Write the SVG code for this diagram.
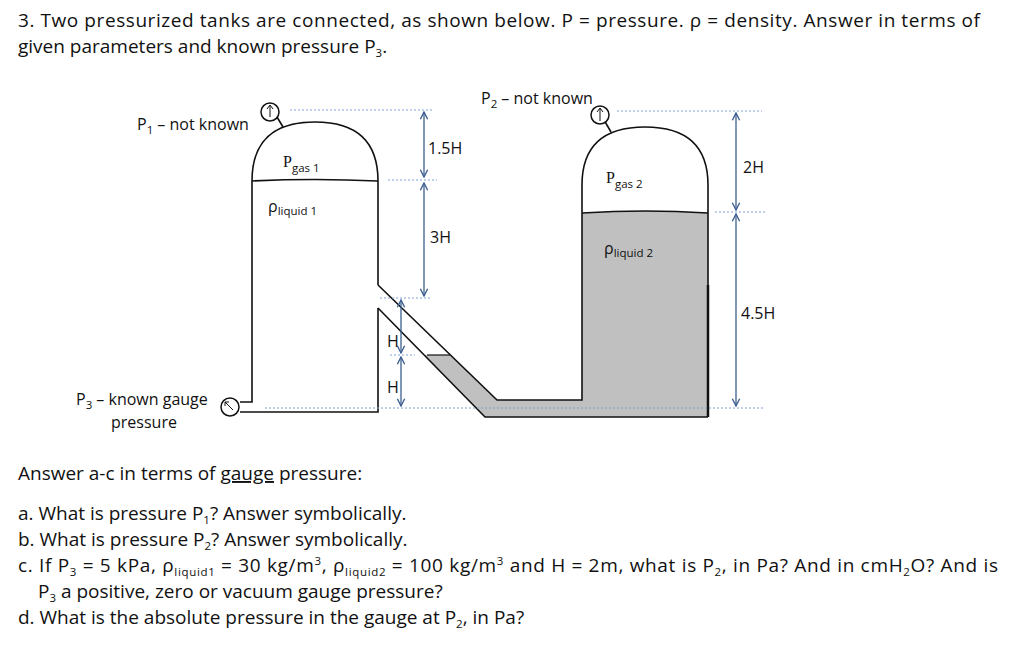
<svg xmlns="http://www.w3.org/2000/svg" width="1024" height="652" viewBox="0 0 1024 652">
<style>
.t{font-family:"Open Sans","Liberation Sans",sans-serif;font-size:19px;fill:#111}
.l{font-family:"Open Sans","Liberation Sans",sans-serif;font-size:16px;fill:#111}
.s{font-size:11.5px}
.w{fill:none;stroke:#111;stroke-width:1.6}
.d{stroke:#7fa3d8;stroke-width:1;stroke-dasharray:2 2;fill:none}
.a{stroke:#3d5f91;stroke-width:1.3;fill:none;marker-start:url(#m);marker-end:url(#m)}
.serif{font-family:"Liberation Serif",serif}
</style>
<defs><marker id="m" viewBox="0 0 10 10" refX="9" refY="5" markerWidth="7" markerHeight="7" orient="auto-start-reverse"><path d="M1,1 L9,5 L1,9" fill="none" stroke="#3d5f91" stroke-width="1.5"/></marker></defs>
<rect width="1024" height="652" fill="#fff"/>
<text class="t" x="18" y="27" textLength="962" lengthAdjust="spacing">3. Two  pressurized tanks are connected, as shown below.  P = pressure.  ρ = density.  Answer in terms of</text>
<text class="t" x="18" y="53">given parameters and known pressure P<tspan class="s" dy="4">3</tspan><tspan dy="-4">.</tspan></text>
<g id="liquid">
<path d="M427,355 L450,355 L497,400 L582,400 L582,213 Q645,209 708,213 L708,417 L485,417 L424,355 Z" fill="#c0c0c0"/>
</g>
<g id="tank1">
<path class="w" d="M378,285 L378,181 Q378,122 315,122 Q252,122 252,181 L252,402 L240,402"/>
<path class="w" d="M240,412 L378,412 L378,308"/>
<path class="w" d="M252,181 Q315,178 378,181"/>
<path class="w" d="M277,117 L283,127"/>
<circle cx="270" cy="112" r="9" fill="#fff" stroke="#111" stroke-width="1.5"/>
<path d="M270,117 L270,106 M267,109 L270,105 L273,109" stroke="#111" fill="none" stroke-width="1"/>
<circle cx="230" cy="407" r="9" fill="#fff" stroke="#111" stroke-width="1.5"/>
<path d="M233,410 L225,402 M225,406 L225,402 L229,402" stroke="#111" fill="none" stroke-width="1"/>
</g>
<g id="pipe">
<path class="w" d="M378,285 L497,400 L582,400 L582,213"/>
<path class="w" d="M378,308 L485,417 L708,417"/>
<path d="M427,355 L450,355" stroke="#111" stroke-width="1.2"/>
</g>
<g id="tank2">
<path class="w" d="M582,213 L582,185 Q582,127 645,127 Q708,127 708,185 L708,417"/>
<path d="M708,285 L708,417" stroke="#111" stroke-width="2.5"/>
<path class="w" d="M582,213 Q645,209 708,213"/>
<path class="w" d="M604,120 L611,132"/>
<circle cx="600" cy="115" r="9" fill="#fff" stroke="#111" stroke-width="1.5"/>
<path d="M600,121 L600,109 M597,112 L600,108 L603,112" stroke="#111" fill="none" stroke-width="1"/>
</g>
<g id="connectors">
<path class="d" d="M290,110 L433,110 M388,180 L437,180 M380,298 L430,298 M390,355 L415,355 M265,408 L765,408 M617,111 L762,111 M715,212 L765,212"/>
<path class="a" d="M424,112 L424,177"/>
<path class="a" d="M424,183 L424,296"/>
<path class="a" d="M401,300 L401,353"/>
<path class="a" d="M401,357 L401,406"/>
<path class="a" d="M736,113 L736,210"/>
<path class="a" d="M736,214 L736,406"/>
</g>
<g id="labels">
<text class="l" x="137" y="130">P<tspan class="s" dy="4">1</tspan><tspan dy="-4"> – not known</tspan></text>
<text class="l serif" x="283" y="167" font-size="17">P<tspan class="s" font-family="Open Sans" dy="5">gas 1</tspan></text>
<text class="l" x="268" y="212">ρ<tspan class="s" dy="3">liquid 1</tspan></text>
<text class="l" x="428" y="154">1.5H</text>
<text class="l" x="430" y="243">3H</text>
<text class="l" x="387" y="347">H</text>
<text class="l" x="387" y="393">H</text>
<text class="l" x="481" y="104">P<tspan class="s" dy="4">2</tspan><tspan dy="-4"> – not known</tspan></text>
<text class="l serif" x="606" y="183" font-size="17">P<tspan class="s" font-family="Open Sans" dy="5">gas 2</tspan></text>
<text class="l" x="604" y="254">ρ<tspan class="s" dy="3">liquid 2</tspan></text>
<text class="l" x="743" y="173">2H</text>
<text class="l" x="741" y="319">4.5H</text>
<text class="l" x="76" y="405">P<tspan class="s" dy="4">3</tspan><tspan dy="-4"> – known gauge</tspan></text>
<text class="l" x="111" y="428">pressure</text>
</g>
<text class="t" x="18" y="480">Answer a-c in terms of <tspan text-decoration="underline">gauge</tspan> pressure:</text>
<text class="t" x="18" y="520">a.  What is pressure P<tspan class="s" dy="4">1</tspan><tspan dy="-4">?  Answer symbolically.</tspan></text>
<text class="t" x="18" y="546">b.  What is pressure P<tspan class="s" dy="4">2</tspan><tspan dy="-4">?  Answer symbolically.</tspan></text>
<text class="t" x="18" y="572" textLength="980" lengthAdjust="spacing">c. If P<tspan class="s" dy="4">3</tspan><tspan dy="-4"> = 5 kPa, ρ</tspan><tspan class="s" dy="4">liquid1</tspan><tspan dy="-4"> = 30 kg/m</tspan><tspan class="s" dy="-7">3</tspan><tspan dy="7">, ρ</tspan><tspan class="s" dy="4">liquid2</tspan><tspan dy="-4"> = 100 kg/m</tspan><tspan class="s" dy="-7">3</tspan><tspan dy="7"> and H = 2m, what is P</tspan><tspan class="s" dy="4">2</tspan><tspan dy="-4">, in Pa?  And in cmH</tspan><tspan class="s" dy="4">2</tspan><tspan dy="-4">O?  And is</tspan></text>
<text class="t" x="38" y="598">P<tspan class="s" dy="4">3</tspan><tspan dy="-4"> a positive, zero or vacuum gauge pressure?</tspan></text>
<text class="t" x="18" y="624">d. What is the absolute pressure in the gauge at P<tspan class="s" dy="4">2</tspan><tspan dy="-4">, in Pa?</tspan></text>
</svg>
